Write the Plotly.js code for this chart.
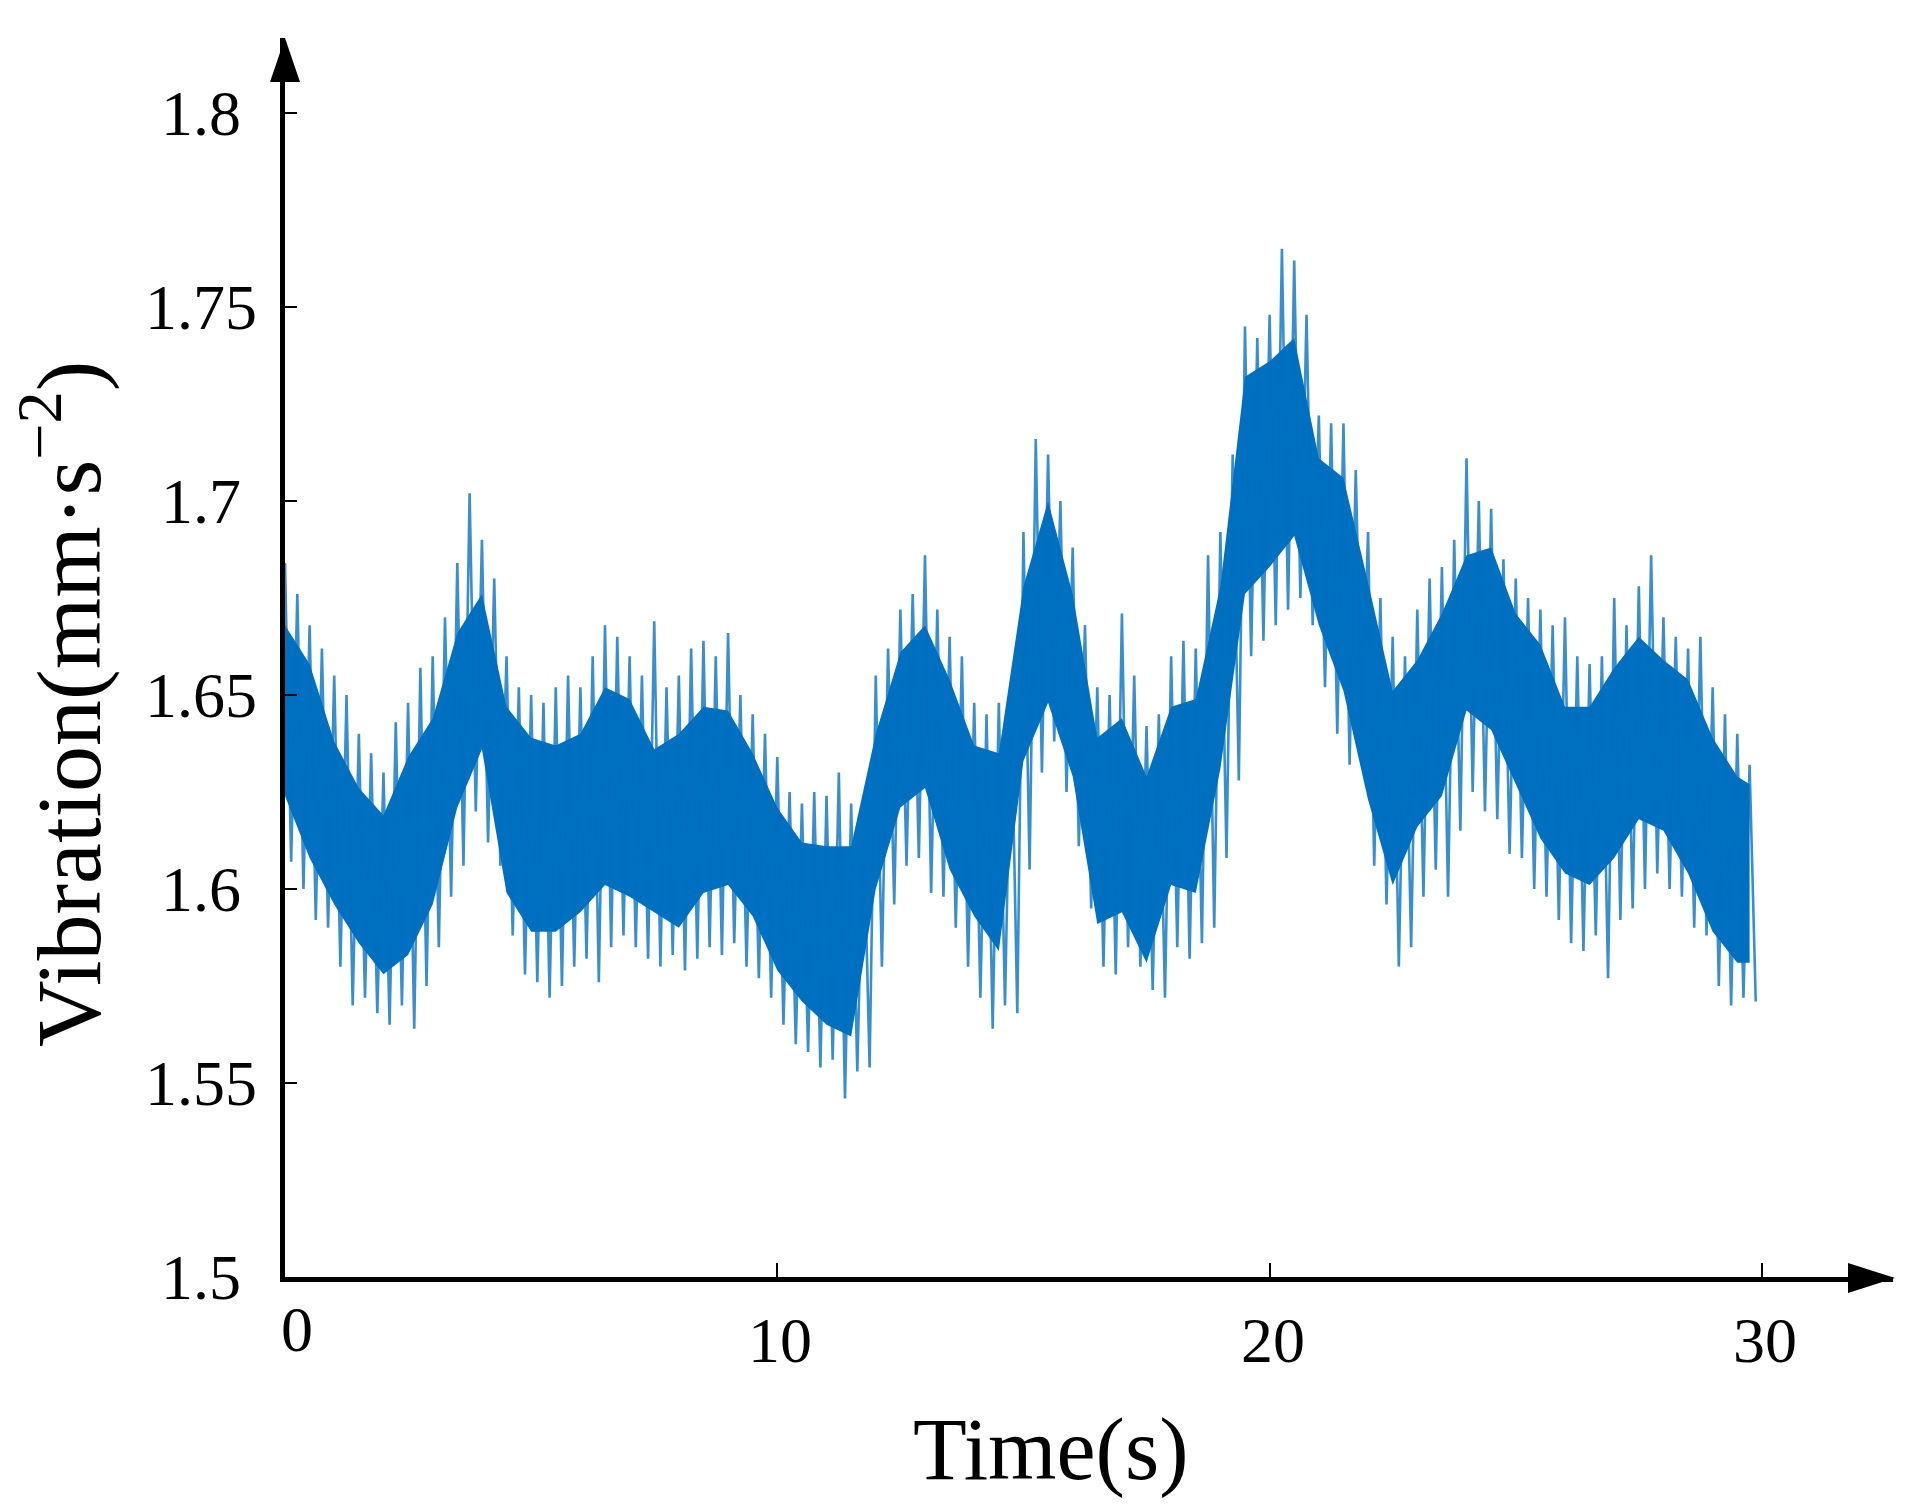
<!DOCTYPE html>
<html>
<head>
<meta charset="utf-8">
<script src="https://cdn.plot.ly/plotly-3.0.1.min.js"></script>
<style>html,body{margin:0;padding:0;background:#fff;}#chart{width:1917px;height:1511px;}</style>
</head>
<body>
<div id="chart"></div>
<script>
// ---- data ----
// core band (dense part of the signal), every 0.5 s
const coreTime = [0,0.5,1,1.5,2,2.5,3,3.5,4,4.5,5,5.5,6,6.5,7,7.5,8,8.5,9,9.5,10,10.5,11,11.5,12,12.5,13,13.5,14,14.5,15,15.5,16,16.5,17,17.5,18,18.5,19,19.5,20,20.5,21,21.5,22,22.5,23,23.5,24,24.5,25,25.5,26,26.5,27,27.5,28,28.5,29,29.5,29.75];
const coreHigh = [1.668,1.658,1.638,1.626,1.619,1.634,1.644,1.666,1.676,1.647,1.639,1.637,1.640,1.652,1.649,1.636,1.640,1.647,1.646,1.635,1.621,1.612,1.611,1.611,1.640,1.661,1.668,1.654,1.637,1.635,1.678,1.700,1.676,1.639,1.644,1.629,1.647,1.649,1.678,1.732,1.736,1.742,1.711,1.706,1.679,1.651,1.659,1.671,1.686,1.688,1.671,1.663,1.647,1.647,1.657,1.665,1.659,1.654,1.639,1.629,1.627];
const coreLow  = [1.624,1.608,1.596,1.586,1.578,1.583,1.596,1.621,1.636,1.599,1.589,1.589,1.594,1.601,1.598,1.594,1.590,1.599,1.601,1.593,1.579,1.571,1.565,1.562,1.600,1.621,1.626,1.605,1.593,1.584,1.633,1.648,1.629,1.591,1.594,1.581,1.601,1.599,1.631,1.676,1.683,1.691,1.668,1.651,1.623,1.601,1.616,1.624,1.646,1.641,1.627,1.613,1.604,1.601,1.608,1.618,1.615,1.604,1.589,1.581,1.581];
// spike extremes, every 0.25 s (t = 0 ... 29.75)
const spikeStep = 0.25;
const spikeHigh = [1.684,1.676,1.668,1.662,1.655,1.650,1.640,1.635,1.630,1.643,1.648,1.657,1.660,1.670,1.684,1.702,1.690,1.680,1.660,1.652,
1.650,1.648,1.652,1.655,1.652,1.660,1.668,1.665,1.660,1.655,1.669,1.652,1.655,1.662,1.664,1.660,1.666,1.650,1.645,1.640,
1.634,1.625,1.622,1.625,1.624,1.630,1.622,1.620,1.655,1.662,1.672,1.676,1.686,1.672,1.665,1.660,1.648,1.645,1.648,1.650,
1.692,1.716,1.712,1.700,1.688,1.668,1.652,1.650,1.671,1.655,1.642,1.645,1.660,1.664,1.662,1.686,1.692,1.712,1.745,1.742,
1.748,1.765,1.762,1.748,1.722,1.720,1.720,1.708,1.692,1.675,1.665,1.660,1.672,1.680,1.683,1.690,1.711,1.700,1.698,1.685,
1.680,1.675,1.672,1.668,1.670,1.660,1.658,1.660,1.675,1.668,1.678,1.686,1.670,1.665,1.662,1.665,1.652,1.645,1.640,1.632];
const spikeLow = [1.607,1.600,1.592,1.590,1.580,1.570,1.572,1.568,1.565,1.570,1.564,1.575,1.585,1.598,1.606,1.620,1.612,1.606,1.588,1.578,
1.576,1.572,1.575,1.580,1.582,1.576,1.585,1.588,1.585,1.582,1.580,1.583,1.579,1.582,1.585,1.583,1.586,1.580,1.577,1.572,
1.565,1.560,1.558,1.554,1.556,1.546,1.553,1.554,1.580,1.596,1.606,1.608,1.599,1.598,1.590,1.580,1.572,1.564,1.570,1.568,
1.605,1.630,1.638,1.625,1.611,1.595,1.580,1.578,1.585,1.580,1.574,1.572,1.585,1.582,1.586,1.590,1.608,1.628,1.660,1.664,
1.668,1.672,1.675,1.668,1.652,1.640,1.632,1.640,1.606,1.596,1.580,1.585,1.598,1.605,1.598,1.615,1.625,1.620,1.618,1.609,
1.608,1.600,1.598,1.592,1.586,1.584,1.588,1.577,1.592,1.595,1.600,1.604,1.600,1.598,1.590,1.588,1.575,1.570,1.572,1.571];
const xTickVals = [0,10,20,30];
const xTickText = ['0','10','20','30'];
const yTickVals = [1.5,1.55,1.6,1.65,1.7,1.75,1.8];
const yTickText = ['1.5','1.55','1.6','1.65','1.7','1.75','1.8'];

// ---- build traces ----
// zigzag between each spike maximum and its minimum half a step later
const spikeX = [], spikeY = [];
for (let i = 0; i < spikeHigh.length; i++) {
  const t = i * spikeStep;
  spikeX.push(t, t + spikeStep / 2);
  spikeY.push(spikeHigh[i], spikeLow[i]);
}
// second pass over the core band, half a step out of phase, to roughen its edges
const coreX = [], coreY = [];
for (let i = 0; i < coreTime.length; i++) {
  coreX.push(coreTime[i]);
  coreY.push(i % 2 === 0 ? coreHigh[i] : coreLow[i]);
}
const BLUE = '#0070C0';
const traces = [
  {x: coreTime, y: coreLow, mode: 'lines', line: {width: 0, color: BLUE}, hoverinfo: 'skip', showlegend: false},
  {x: coreTime, y: coreHigh, mode: 'lines', line: {width: 0, color: BLUE}, fill: 'tonexty', fillcolor: BLUE, hoverinfo: 'skip', showlegend: false},
  {x: spikeX, y: spikeY, mode: 'lines', line: {width: 2.6, color: 'rgba(0,112,192,0.78)'}, hoverinfo: 'skip', showlegend: false}
];

// ---- layout ----
const W = 1917, H = 1511, L = 285, R = 24, T = 38, B = 234;
const PW = W - L - R, PH = H - T - B;
const px = v => (v - L) / PW;          // pixel x -> paper
const py = v => (H - B - v) / PH;      // pixel y -> paper
const serif = 'Liberation Serif, Times New Roman, serif';

const annotations = [];
yTickVals.forEach((v, i) => annotations.push({
  x: px(201), xref: 'paper', y: v, yref: 'y', text: yTickText[i], showarrow: false,
  xanchor: 'center', yanchor: 'middle', font: {family: serif, size: 64, color: '#000'}
}));
xTickVals.forEach((v, i) => annotations.push({
  x: v, xref: 'x', y: py(1340), yref: 'paper', text: xTickText[i], showarrow: false,
  xanchor: 'center', yanchor: 'middle', xshift: i === 0 ? 12 : 3, yshift: i === 0 ? 11 : 0,
  font: {family: serif, size: 64, color: '#000'}
}));
annotations.push({x: px(1050), xref: 'paper', y: py(1450), yref: 'paper', text: 'Time(s)', showarrow: false,
  xanchor: 'center', yanchor: 'middle', font: {family: serif, size: 88, color: '#000'}});
annotations.push({x: px(62), xref: 'paper', y: py(704), yref: 'paper', text: 'Vibration(mm·s<sup>−2</sup>)', showarrow: false,
  textangle: -90, xanchor: 'center', yanchor: 'middle', font: {family: serif, size: 92, color: '#000'}});

const shapes = [
  {type: 'path', xref: 'paper', yref: 'paper', fillcolor: '#000', line: {width: 0},
   path: `M ${px(285)} ${py(38)} L ${px(270)} ${py(82)} L ${px(300)} ${py(82)} Z`},
  {type: 'path', xref: 'paper', yref: 'paper', fillcolor: '#000', line: {width: 0},
   path: `M ${px(1895)} ${py(1278)} L ${px(1848)} ${py(1263)} L ${px(1848)} ${py(1293)} Z`}
];

const layout = {
  width: W, height: H,
  margin: {l: L, r: R, t: T, b: B, pad: 0},
  paper_bgcolor: '#fff', plot_bgcolor: '#fff',
  showlegend: false,
  xaxis: {range: [0, (W - R - L) / 49.23], showline: true, linecolor: '#000', linewidth: 5,
    ticks: 'inside', ticklen: 14, tickwidth: 2, tickcolor: '#000', tickvals: xTickVals,
    showticklabels: false, showgrid: false, zeroline: false, fixedrange: true},
  yaxis: {range: [1.5, 1.5 + (H - B - T) / 3880], showline: true, linecolor: '#000', linewidth: 5,
    ticks: 'inside', ticklen: 12, tickwidth: 2, tickcolor: '#000', tickvals: yTickVals,
    showticklabels: false, showgrid: false, zeroline: false, fixedrange: true},
  annotations: annotations,
  shapes: shapes
};
Plotly.newPlot('chart', traces, layout, {staticPlot: true, displayModeBar: false});
</script>
</body>
</html>
